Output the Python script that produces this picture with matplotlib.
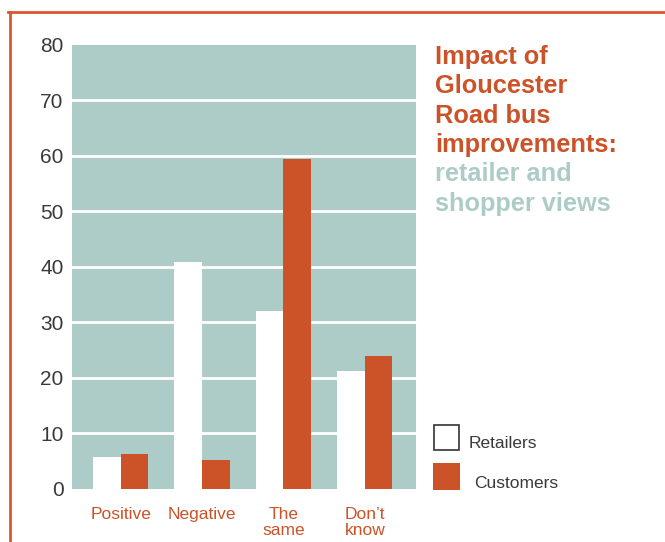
import matplotlib
matplotlib.use("Agg")
import matplotlib.pyplot as plt
import numpy as np

# data
categories = ["Positive", "Negative", "The\nsame", "Don\u2019t\nknow"]
retailers = [5.8, 40.9, 32.1, 21.3]
customers = [6.3, 5.2, 59.5, 24.0]
yticks = [0, 10, 20, 30, 40, 50, 60, 70, 80]
title_lines = ["Impact of", "Gloucester", "Road bus", "improvements:"]
subtitle_lines = ["retailer and", "shopper views"]

orange = "#cc5228"
teal = "#adccc7"
plt.rcParams['font.family'] = ['Liberation Sans', 'DejaVu Sans']

fig = plt.figure(figsize=(6.65, 5.42), dpi=100)
ax = fig.add_axes([0.1083, 0.0978, 0.5173, 0.8192])
ax.set_facecolor(teal)

x = np.arange(len(categories))
w = 0.34
ax.bar(x - w/2, retailers, w, color="white", zorder=3)
ax.bar(x + w/2, customers, w, color=orange, zorder=3)

ax.set_xlim(-0.60, 3.63)
ax.set_ylim(0, 80)
ax.set_yticks(yticks)
for t in yticks[1:-1]:
    ax.axhline(t, color="white", lw=2, zorder=2)
for s in ax.spines.values():
    s.set_visible(False)
ax.tick_params(axis="y", length=0, pad=6, labelsize=15, labelcolor="#3a3a3a")
ax.tick_params(axis="x", length=0, pad=13)
ax.set_xticks(x)
ax.set_xticklabels(categories, fontsize=12.5, color=orange, linespacing=1.12, va="top")

# title block, one line per baseline
for i, line in enumerate(title_lines + subtitle_lines):
    col = orange if i < len(title_lines) else teal
    fig.text(435/665, 1 - (64 + 29.3*i)/542, line, color=col, fontsize=18.3,
             fontweight="bold", va="baseline", ha="left")

# legend squares
fig.patches.append(plt.Rectangle((434/665, 1 - 450/542), 25/665, 25/542,
                                 transform=fig.transFigure, facecolor="white",
                                 edgecolor="#333333", lw=1.2))
fig.patches.append(plt.Rectangle((433/665, 1 - 490/542), 27/665, 27/542,
                                 transform=fig.transFigure, facecolor=orange,
                                 edgecolor="none"))
fig.text(469/665, 1 - 443/542, "Retailers", fontsize=12.5, color="#3a3a3a", va="center")
fig.text(474/665, 1 - 483/542, "Customers", fontsize=12.5, color="#3a3a3a", va="center")

# orange frame
fig.add_artist(plt.Line2D([8/665, 1], [1 - 12/542, 1 - 12/542],
                          transform=fig.transFigure, color="#d9582b", lw=2))
fig.add_artist(plt.Line2D([10/665, 10/665], [1 - 12/542, 0],
                          transform=fig.transFigure, color="#d9582b", lw=2))

fig.savefig("out.png", dpi=100)
